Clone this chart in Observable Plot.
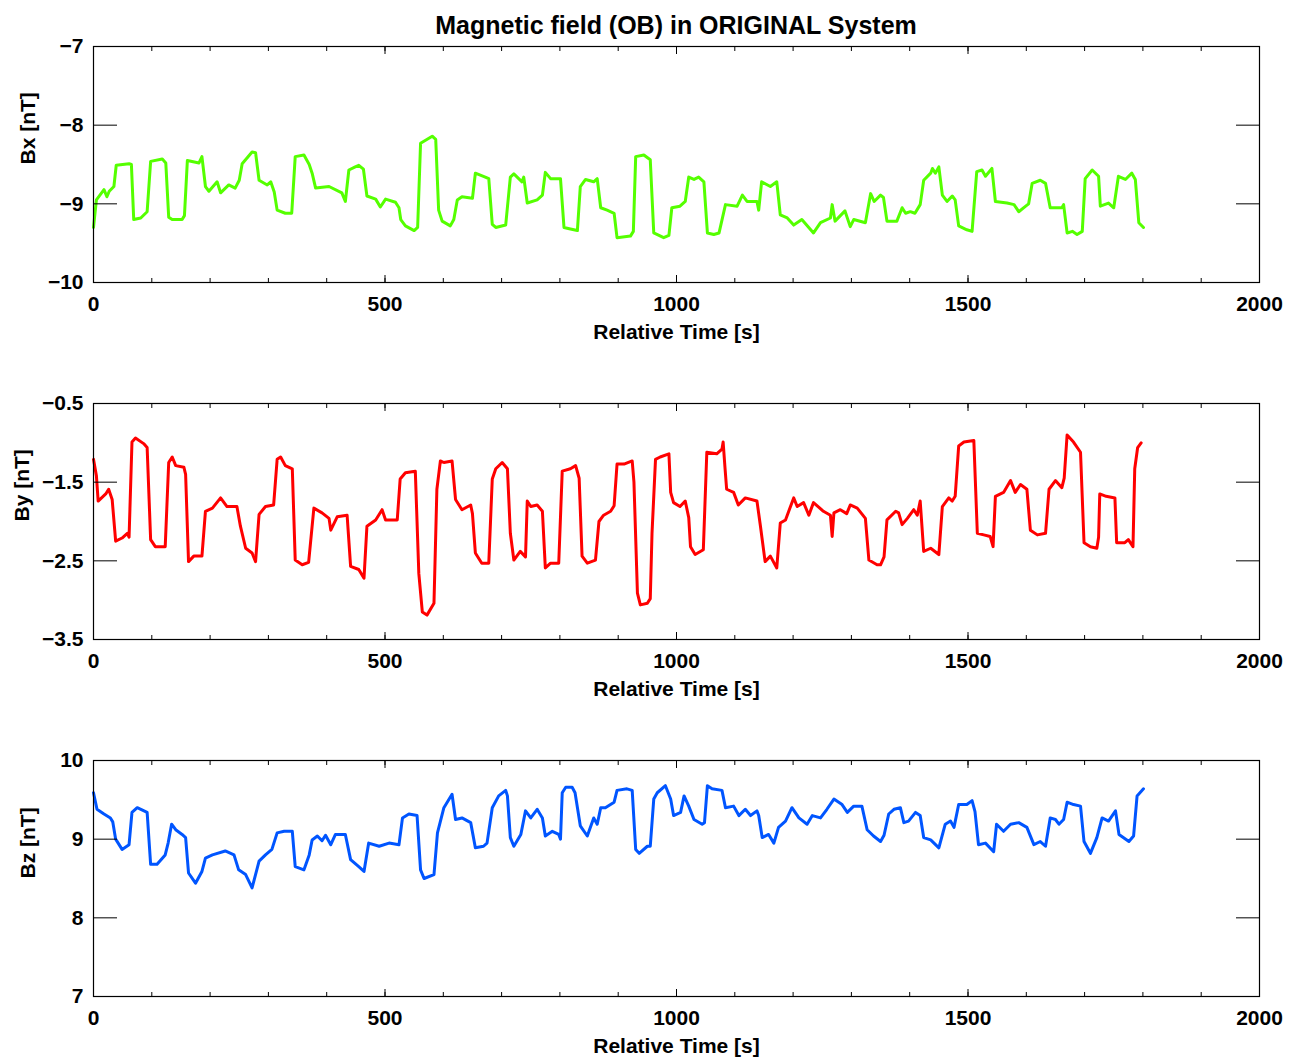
<!DOCTYPE html>
<html>
<head>
<meta charset="utf-8">
<script src="https://cdn.jsdelivr.net/npm/d3@7"></script>
<script src="https://cdn.jsdelivr.net/npm/@observablehq/plot@0.6"></script>
<style>
  html, body { margin: 0; padding: 0; background: #fff; }
  #wrap { position: relative; width: 1299px; }
  #title { position: absolute; left: 93px; width: 1166px; top: 0; height: 50px; line-height: 50px;
           text-align: center; font-family: "Liberation Sans", Arial, sans-serif; font-size: 25px; font-weight: bold; color: #000; }
  svg { display: block; }
</style>
</head>
<body>
<div id="wrap">
  <div id="title"></div>
  <div id="charts"></div>
</div>
<script>
const chartTitle = "Magnetic field (OB) in ORIGINAL System";
const xLabel = "Relative Time [s]";
const xDomain = [0, 2000];
const xMajorTicks = [0, 500, 1000, 1500, 2000];
const xMinorTicks = d3.range(0, 2001, 100);

const panelLabels = ["Bx [nT]", "By [nT]", "Bz [nT]"];
const panelDomains = [[-10, -7], [-3.5, -0.5], [7, 10]];
const panelTicks = [[-10, -9, -8, -7], [-3.5, -2.5, -1.5, -0.5], [7, 8, 9, 10]];
const panelColors = ["#55ff00", "#ff0000", "#0055ff"];

const bxT = [0,5,18,23,27,35,39,61,65,69,81,92,98,118,124,129,135,152,156,161,181,186,192,198,212,218,232,243,250,255,272,278,284,298,304,310,315,329,340,346,361,370,375,381,404,426,432,438,449,455,463,469,484,492,501,518,524,527,535,550,556,561,581,587,592,598,612,618,624,632,650,655,672,678,684,690,707,715,721,735,738,744,761,770,775,784,801,807,818,830,835,844,858,864,870,881,893,898,921,926,930,944,955,961,978,987,992,1006,1015,1021,1030,1038,1047,1053,1064,1073,1084,1104,1113,1121,1138,1141,1146,1161,1172,1178,1190,1201,1215,1235,1247,1264,1267,1272,1289,1298,1304,1324,1333,1339,1350,1355,1361,1378,1387,1393,1401,1409,1418,1424,1436,1439,1444,1450,1456,1464,1473,1478,1484,1498,1507,1515,1524,1530,1541,1547,1567,1579,1587,1599,1604,1610,1624,1633,1641,1661,1664,1670,1679,1687,1696,1701,1713,1724,1727,1741,1750,1758,1770,1781,1787,1793,1801];
const bxV = [-9.30,-8.95,-8.82,-8.91,-8.84,-8.78,-8.51,-8.49,-8.50,-9.20,-9.18,-9.10,-8.46,-8.43,-8.48,-9.17,-9.20,-9.20,-9.15,-8.45,-8.48,-8.40,-8.78,-8.84,-8.72,-8.86,-8.76,-8.80,-8.70,-8.49,-8.34,-8.35,-8.70,-8.76,-8.72,-8.85,-9.08,-9.12,-9.12,-8.40,-8.38,-8.50,-8.61,-8.80,-8.78,-8.86,-8.97,-8.57,-8.53,-8.51,-8.56,-8.90,-8.94,-9.04,-8.94,-8.98,-9.05,-9.20,-9.28,-9.34,-9.30,-8.23,-8.14,-8.18,-9.08,-9.22,-9.28,-9.20,-8.95,-8.91,-8.93,-8.61,-8.66,-8.68,-9.26,-9.30,-9.27,-8.66,-8.62,-8.72,-8.66,-8.99,-8.95,-8.89,-8.60,-8.68,-8.68,-9.30,-9.32,-9.34,-8.78,-8.69,-8.72,-8.68,-9.05,-9.08,-9.12,-9.43,-9.41,-9.35,-8.40,-8.38,-8.44,-9.37,-9.43,-9.40,-9.05,-9.03,-8.97,-8.66,-8.69,-8.66,-8.72,-9.37,-9.39,-9.37,-9.01,-9.03,-8.89,-8.97,-8.97,-9.08,-8.72,-8.78,-8.72,-9.14,-9.18,-9.27,-9.20,-9.37,-9.24,-9.18,-9.01,-9.22,-9.09,-9.29,-9.20,-9.24,-8.87,-8.97,-8.89,-8.92,-9.22,-9.22,-9.05,-9.12,-9.10,-9.12,-9.01,-8.70,-8.61,-8.55,-8.61,-8.53,-8.89,-8.97,-8.90,-8.95,-9.28,-9.33,-9.35,-8.59,-8.57,-8.65,-8.55,-8.97,-8.99,-9.01,-9.10,-9.03,-9.00,-8.74,-8.70,-8.74,-9.05,-9.05,-9.01,-9.37,-9.35,-9.39,-9.35,-8.68,-8.57,-8.65,-9.03,-8.99,-9.05,-8.65,-8.69,-8.61,-8.69,-9.24,-9.30];

const byT = [0,5,8,21,26,32,38,49,58,61,66,72,86,92,98,106,123,129,135,141,155,158,163,172,186,192,204,218,229,246,252,261,272,278,284,295,309,315,321,329,341,346,358,369,378,392,404,407,418,435,441,455,464,469,484,495,501,521,526,535,552,558,564,572,584,589,595,601,615,621,632,647,650,655,666,678,684,690,701,710,715,721,732,741,744,750,761,770,775,784,798,804,818,827,833,838,847,861,867,875,887,893,898,910,924,927,933,938,950,955,958,964,972,987,990,995,1006,1015,1021,1024,1032,1046,1052,1069,1078,1080,1083,1086,1098,1106,1118,1138,1144,1152,1161,1172,1178,1187,1201,1207,1218,1227,1235,1252,1264,1267,1270,1281,1292,1298,1310,1324,1330,1344,1350,1356,1361,1376,1381,1387,1396,1407,1413,1418,1424,1436,1450,1456,1467,1473,1478,1484,1493,1510,1516,1527,1538,1543,1547,1561,1573,1581,1590,1601,1607,1619,1633,1639,1650,1661,1665,1670,1681,1693,1699,1710,1721,1724,1726,1737,1752,1755,1769,1775,1783,1786,1791,1797];
const byV = [-1.21,-1.42,-1.74,-1.65,-1.59,-1.72,-2.25,-2.21,-2.15,-2.20,-0.99,-0.94,-1.01,-1.06,-2.23,-2.32,-2.32,-1.25,-1.18,-1.29,-1.31,-1.40,-2.51,-2.44,-2.44,-1.87,-1.83,-1.70,-1.81,-1.81,-2.06,-2.34,-2.40,-2.51,-1.91,-1.81,-1.79,-1.21,-1.18,-1.29,-1.33,-2.49,-2.55,-2.52,-1.83,-1.89,-1.96,-2.11,-1.94,-1.92,-2.57,-2.61,-2.72,-2.06,-1.98,-1.85,-1.98,-1.98,-1.46,-1.38,-1.36,-2.66,-3.15,-3.19,-3.04,-1.59,-1.23,-1.25,-1.23,-1.72,-1.85,-1.79,-1.90,-2.40,-2.53,-2.53,-1.46,-1.33,-1.25,-1.33,-2.15,-2.49,-2.38,-2.45,-1.74,-1.81,-1.79,-1.87,-2.59,-2.53,-2.53,-1.36,-1.33,-1.29,-1.45,-2.44,-2.53,-2.49,-2.00,-1.92,-1.87,-1.80,-1.27,-1.27,-1.23,-1.50,-2.91,-3.06,-3.04,-2.98,-2.15,-1.21,-1.18,-1.14,-1.63,-1.76,-1.81,-1.74,-1.95,-2.32,-2.42,-2.36,-1.12,-1.14,-1.08,-0.99,-1.30,-1.59,-1.63,-1.79,-1.70,-1.74,-2.06,-2.51,-2.44,-2.59,-2.02,-1.98,-1.70,-1.81,-1.76,-1.92,-1.76,-1.87,-1.92,-2.19,-1.89,-1.85,-1.90,-1.79,-1.83,-1.96,-2.49,-2.55,-2.55,-2.45,-1.98,-1.87,-1.89,-2.04,-1.96,-1.85,-1.92,-1.74,-2.38,-2.34,-2.42,-1.81,-1.70,-1.74,-1.68,-1.04,-0.99,-0.97,-2.15,-2.17,-2.19,-2.32,-1.68,-1.63,-1.48,-1.63,-1.53,-1.59,-2.11,-2.17,-2.15,-1.59,-1.48,-1.57,-1.45,-0.90,-0.99,-1.12,-2.27,-2.32,-2.34,-2.20,-1.65,-1.68,-1.70,-2.27,-2.27,-2.23,-2.32,-1.33,-1.06,-1.00];

const bzT = [0,6,18,29,33,38,49,61,66,75,92,98,109,123,128,134,141,152,158,163,175,186,192,204,226,241,249,261,272,284,295,306,315,327,341,346,361,370,375,384,392,398,407,415,432,441,455,464,472,490,507,524,530,541,555,561,567,584,590,601,615,621,632,647,655,669,675,684,695,707,710,715,721,733,741,750,761,770,775,787,798,801,804,810,821,826,835,847,858,864,870,878,893,898,915,924,930,936,950,955,961,967,981,990,995,1007,1013,1021,1030,1044,1048,1053,1061,1078,1084,1098,1107,1118,1127,1138,1141,1147,1158,1167,1175,1187,1198,1210,1224,1233,1247,1258,1270,1284,1293,1304,1318,1327,1338,1350,1356,1364,1373,1384,1390,1398,1410,1418,1424,1436,1450,1461,1470,1476,1484,1498,1507,1512,1518,1530,1544,1549,1561,1573,1587,1601,1613,1624,1633,1641,1650,1656,1664,1670,1681,1693,1699,1710,1721,1730,1741,1753,1759,1776,1784,1790,1801];
const bzV = [9.59,9.38,9.32,9.27,9.22,9.00,8.87,8.93,9.34,9.40,9.34,8.68,8.68,8.80,8.95,9.19,9.12,9.06,9.02,8.57,8.44,8.59,8.76,8.80,8.85,8.80,8.61,8.55,8.38,8.72,8.80,8.87,9.08,9.10,9.10,8.65,8.61,8.80,8.99,9.04,8.98,9.05,8.93,9.06,9.06,8.74,8.65,8.59,8.95,8.91,8.95,8.93,9.27,9.32,9.30,8.61,8.50,8.55,9.08,9.40,9.57,9.25,9.27,9.21,8.89,8.91,8.95,9.40,9.55,9.62,9.55,9.02,8.91,9.06,9.36,9.27,9.38,9.27,9.04,9.10,9.06,9.00,9.59,9.66,9.66,9.59,9.17,9.04,9.27,9.19,9.40,9.40,9.47,9.62,9.64,9.62,8.87,8.82,8.91,8.91,9.51,9.59,9.68,9.51,9.30,9.34,9.55,9.42,9.25,9.19,9.21,9.68,9.64,9.62,9.40,9.42,9.30,9.38,9.30,9.36,9.30,9.02,9.06,8.95,9.15,9.23,9.40,9.27,9.19,9.30,9.27,9.38,9.51,9.44,9.34,9.42,9.42,9.12,9.04,8.97,9.05,9.32,9.38,9.40,9.21,9.23,9.34,9.30,9.02,8.99,8.89,9.19,9.23,9.15,9.44,9.44,9.49,9.35,8.93,8.95,8.84,9.19,9.10,9.19,9.21,9.15,8.93,8.97,8.91,9.27,9.25,9.19,9.25,9.47,9.44,9.42,8.97,8.82,9.02,9.27,9.23,9.36,9.06,8.97,9.04,9.55,9.64];

const series = [[bxT, bxV], [byT, byV], [bzT, bzV]];
const labelDx = [-65, -71, -65];

document.getElementById("title").textContent = chartTitle;
const FONT = '"Liberation Sans", Arial, sans-serif';
const fmt = d3.format("");

series.forEach(([T, V], i) => {
  const data = T.map((t, j) => ({t, v: V[j]}));
  const chart = Plot.plot({
    width: 1299,
    height: 357,
    marginLeft: 93,
    marginRight: 40,
    marginTop: 46,
    marginBottom: 75,
    x: {domain: xDomain},
    y: {domain: panelDomains[i]},
    style: {fontFamily: FONT, fontSize: "21px", fontWeight: "bold", color: "#000", background: "#fff", overflow: "visible"},
    marks: [
      Plot.line(data, {x: "t", y: "v", stroke: panelColors[i], strokeWidth: 3, strokeLinejoin: "round"}),
      Plot.frame({stroke: "#000", strokeWidth: 1.2}),
      Plot.axisX({anchor: "bottom", ticks: xMinorTicks, tickSize: 4, dy: -4, fill: "none", label: null}),
      Plot.axisX({anchor: "bottom", ticks: xMajorTicks, tickSize: 7, dy: -7, fill: "none", label: null}),
      Plot.axisX({anchor: "top", ticks: xMinorTicks, tickSize: 4, dy: 4, fill: "none", label: null}),
      Plot.axisX({anchor: "top", ticks: xMajorTicks, tickSize: 7, dy: 7, fill: "none", label: null}),
      Plot.axisX({anchor: "bottom", ticks: xMajorTicks, tickSize: 0, tickPadding: 14, tickFormat: d => String(d), label: null}),
      Plot.axisY({anchor: "left", ticks: panelTicks[i], tickSize: 24, dx: 24, fill: "none", label: null}),
      Plot.axisY({anchor: "right", ticks: panelTicks[i], tickSize: 24, dx: -24, fill: "none", label: null}),
      Plot.axisY({anchor: "left", ticks: panelTicks[i], tickSize: 0, tickPadding: 10, tickFormat: fmt, label: null}),
      Plot.text([xLabel], {frameAnchor: "bottom", dy: 56, text: d => d, fontSize: 21, fontWeight: "bold"}),
      Plot.text([panelLabels[i]], {frameAnchor: "left", dx: labelDx[i], rotate: -90, text: d => d, fontSize: 21, fontWeight: "bold"})
    ]
  });
  document.getElementById("charts").appendChild(chart);
});
</script>
</body>
</html>
